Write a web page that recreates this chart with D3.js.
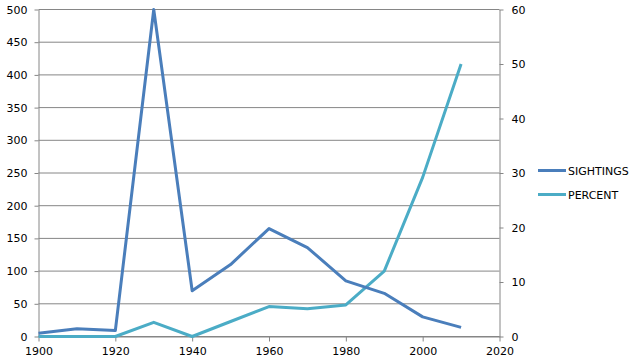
<!DOCTYPE html>
<html lang="en">
<head>
<meta charset="UTF-8">
<title>Sightings</title>
<script src="https://cdn.jsdelivr.net/npm/d3@7"></script>
<style>
    body { margin: 0; padding: 0; background: #fff; }
    text { font-family: "DejaVu Sans", sans-serif; font-size: 11px; fill: #000; }
</style>
</head>
<body>
<svg width="634" height="364" id="mainsvg"></svg>
<script>
    const years = [1900, 1910, 1920, 1930, 1940, 1950, 1960, 1970, 1980, 1990, 2000, 2010];
    const sightings = [5, 12, 9, 500, 70, 110, 165, 136, 85, 66, 30, 14];
    const percent = [0, 0, 0, 2.6, 0, 2.75, 5.5, 5.1, 5.8, 12, 29.2, 50];
    const leftTicks = [0, 50, 100, 150, 200, 250, 300, 350, 400, 450, 500];
    const rightTicks = [0, 10, 20, 30, 40, 50, 60];
    const xTicks = [1900, 1920, 1940, 1960, 1980, 2000, 2020];

    const svg = d3.select("#mainsvg");
    const plotLeft = 38.5, plotRight = 499.5, plotTop = 9.5, plotBottom = 336.5;

    const x = d3.scaleLinear().domain([1900, 2020]).range([plotLeft, plotRight]);
    const yL = d3.scaleLinear().domain([0, 500]).range([plotBottom, plotTop]);
    const yR = d3.scaleLinear().domain([0, 60]).range([plotBottom, plotTop]);

    // gridlines
    svg.append("g").selectAll("line").data(leftTicks).join("line")
        .attr("x1", plotLeft).attr("x2", plotRight)
        .attr("y1", d => yL(d)).attr("y2", d => yL(d))
        .attr("stroke", "#868686").attr("stroke-width", 1);

    const axisStyle = g => {
        g.select(".domain").attr("stroke", "#868686");
        g.selectAll(".tick line").attr("stroke", "#868686");
        g.selectAll(".tick text").attr("font-family", "DejaVu Sans").attr("font-size", 11).attr("fill", "#000");
    };

    svg.append("g").attr("transform", `translate(${plotLeft},0)`)
        .call(d3.axisLeft(yL).tickValues(leftTicks).tickSize(4).tickPadding(7).tickSizeOuter(0))
        .call(axisStyle);
    svg.append("g").attr("transform", `translate(${plotRight},0)`)
        .call(d3.axisRight(yR).tickValues(rightTicks).tickSize(4).tickPadding(8).tickSizeOuter(0))
        .call(axisStyle);
    svg.append("g").attr("transform", `translate(0,${plotBottom})`)
        .call(d3.axisBottom(x).tickValues(xTicks).tickFormat(d3.format("d")).tickSize(5).tickPadding(6).tickSizeOuter(0))
        .call(axisStyle);

    const lineL = d3.line().x((d, i) => x(years[i])).y(d => yL(d));
    const lineR = d3.line().x((d, i) => x(years[i])).y(d => yR(d));

    svg.append("path").datum(percent).attr("d", lineR)
        .attr("fill", "none").attr("stroke", "#4BACC6").attr("stroke-width", 3)
        .attr("stroke-linejoin", "round");
    svg.append("path").datum(sightings).attr("d", lineL)
        .attr("fill", "none").attr("stroke", "#4A7EBB").attr("stroke-width", 3)
        .attr("stroke-linejoin", "round");

    // legend
    const legend = [["SIGHTINGS", "#4A7EBB"], ["PERCENT", "#4BACC6"]];
    const lg = svg.append("g").selectAll("g").data(legend).join("g")
        .attr("transform", (d, i) => `translate(538,${170.5 + i * 24})`);
    lg.append("line").attr("x1", 0).attr("x2", 28)
        .attr("stroke", d => d[1]).attr("stroke-width", 3);
    lg.append("text").attr("x", 30).attr("y", 4).attr("font-size", 10.5).text(d => d[0]);
</script>
</body>
</html>
